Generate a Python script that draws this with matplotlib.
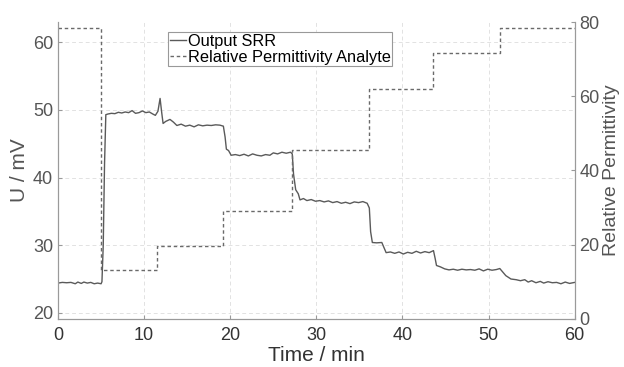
import numpy as np
from matplotlib import pyplot as plt

plt.rcParams['font.family'] = ['Liberation Sans', 'DejaVu Sans']

# Output SRR voltage (left axis)
t_srr = [0, 0.5, 1.0, 1.5, 2.0, 2.3, 2.7, 3.0, 3.4, 3.8, 4.2, 4.6, 5.0, 5.1, 5.25, 5.4, 5.55,
         5.8, 6.2, 6.6, 7.0, 7.4, 7.8, 8.2, 8.6, 9.0, 9.4, 9.8, 10.2, 10.6, 11.0, 11.3, 11.6,
         11.85, 12.05, 12.2, 12.5, 13.0, 13.4, 13.8, 14.3, 14.8, 15.3, 15.8, 16.3, 16.8, 17.3,
         17.8, 18.3, 18.8, 19.2, 19.4, 19.55, 19.8, 20.1, 20.6, 21.1, 21.6, 22.1, 22.6, 23.1,
         23.6, 24.1, 24.6, 25.0, 25.5, 26.0, 26.5, 27.0, 27.2, 27.35, 27.6, 27.9, 28.1, 28.5,
         28.9, 29.4, 29.9, 30.4, 30.9, 31.4, 31.9, 32.4, 32.9, 33.4, 33.9, 34.4, 34.9, 35.4,
         35.9, 36.15, 36.3, 36.5, 37.0, 37.6, 37.8, 38.1, 38.6, 39.1, 39.6, 40.1, 40.6, 41.1,
         41.6, 42.1, 42.6, 43.1, 43.6, 43.8, 43.95, 44.4, 44.9, 45.4, 45.9, 46.4, 46.9, 47.4,
         47.9, 48.4, 48.9, 49.4, 49.9, 50.4, 50.9, 51.3, 51.6, 52.0, 52.6, 53.2, 53.7, 54.2,
         54.6, 55.0, 55.5, 56.0, 56.4, 56.9, 57.4, 57.9, 58.4, 58.9, 59.4, 60.0]
u_srr = [24.4, 24.5, 24.45, 24.5, 24.3, 24.55, 24.35, 24.55, 24.4, 24.5, 24.3, 24.4, 24.3, 24.6, 30.0, 42.0, 49.3,
         49.4, 49.5, 49.45, 49.65, 49.55, 49.7, 49.6, 49.9, 49.5, 49.6, 49.85, 49.6, 49.7, 49.4, 49.2, 49.8,
         51.7, 49.5, 48.0, 48.3, 48.6, 48.2, 47.7, 47.9, 47.6, 47.75, 47.5, 47.8, 47.65, 47.75,
         47.7, 47.8, 47.75, 47.6, 46.0, 44.2, 44.0, 43.3, 43.4, 43.25, 43.45, 43.2, 43.5, 43.3,
         43.2, 43.4, 43.3, 43.65, 43.5, 43.75, 43.6, 43.75, 43.5, 40.5, 38.2, 37.6, 36.7, 36.9,
         36.6, 36.75, 36.5, 36.6, 36.4, 36.55, 36.3, 36.45, 36.2, 36.35, 36.15, 36.4, 36.3, 36.45,
         36.2, 35.5, 32.0, 30.4, 30.35, 30.4, 29.8, 28.9, 29.0, 28.8, 29.0, 28.7, 28.95, 28.8,
         29.1, 28.85, 29.05, 28.9, 29.2, 28.0, 27.0, 26.8, 26.5, 26.35, 26.45, 26.3, 26.45, 26.35,
         26.4, 26.3, 26.5, 26.2, 26.45, 26.3, 26.4, 26.55, 26.1, 25.5, 25.0, 24.9, 24.75, 24.9,
         24.55, 24.75, 24.45, 24.65, 24.4, 24.6, 24.45, 24.5, 24.3, 24.55, 24.35, 24.5]

# Relative permittivity of the analyte (right axis), step changes
t_eps = [0, 5.0, 11.5, 19.15, 27.2, 36.1, 43.6, 51.3, 60]
eps = [78.4, 13.2, 19.7, 29.2, 45.6, 61.9, 71.7, 78.4, 78.4]

tick_col = '#555555'

fig = plt.figure(figsize=(6.24, 3.67), dpi=100)
ax = fig.add_axes([0.093, 0.131, 0.828, 0.809])
ax2 = ax.twinx()

l1, = ax.plot(t_srr, u_srr, color='#5a5a5a', lw=1.0, label='Output SRR')
l2, = ax2.plot(t_eps, eps, drawstyle='steps-post', color='#6a6a6a', lw=1.0,
               linestyle=(0, (2.5, 2)), label='Relative Permittivity Analyte')

ax.set_xlim(0, 60)
ax.set_ylim(19.1, 63)
ax2.set_ylim(0, 80)
ax.set_xticks([0, 10, 20, 30, 40, 50, 60])
ax.set_yticks([20, 30, 40, 50, 60])
ax2.set_yticks([0, 20, 40, 60, 80])

ax.grid(True, linestyle=(0, (4, 3)), color='#e2e2e2', lw=0.7)
ax.set_axisbelow(True)

for a in (ax, ax2):
    a.spines['top'].set_visible(False)
    for s in ('left', 'bottom', 'right'):
        a.spines[s].set_color('#9a9a9a')
        a.spines[s].set_linewidth(0.8)
    a.tick_params(direction='in', length=3, width=0.8, color='#9a9a9a',
                  labelsize=13, labelcolor=tick_col)
ax.tick_params(axis='x', pad=6, labelcolor='#333333')

ax.set_xlabel('Time / min', fontsize=15, color='#333333', labelpad=1)
ax.set_ylabel('U / mV', fontsize=15, color=tick_col, labelpad=3)
ax2.set_ylabel('Relative Permittivity', fontsize=14, color=tick_col, labelpad=2)

leg = ax.legend(handles=[l1, l2], loc='upper left', bbox_to_anchor=(0.213, 0.966),
                borderaxespad=0, fontsize=11.8, handlelength=1.0, handletextpad=0.1,
                borderpad=0.1, labelspacing=0.05, fancybox=False, framealpha=1)
leg.get_frame().set_edgecolor('#999999')
leg.get_frame().set_linewidth(0.8)

plt.savefig('out.png', dpi=100)
